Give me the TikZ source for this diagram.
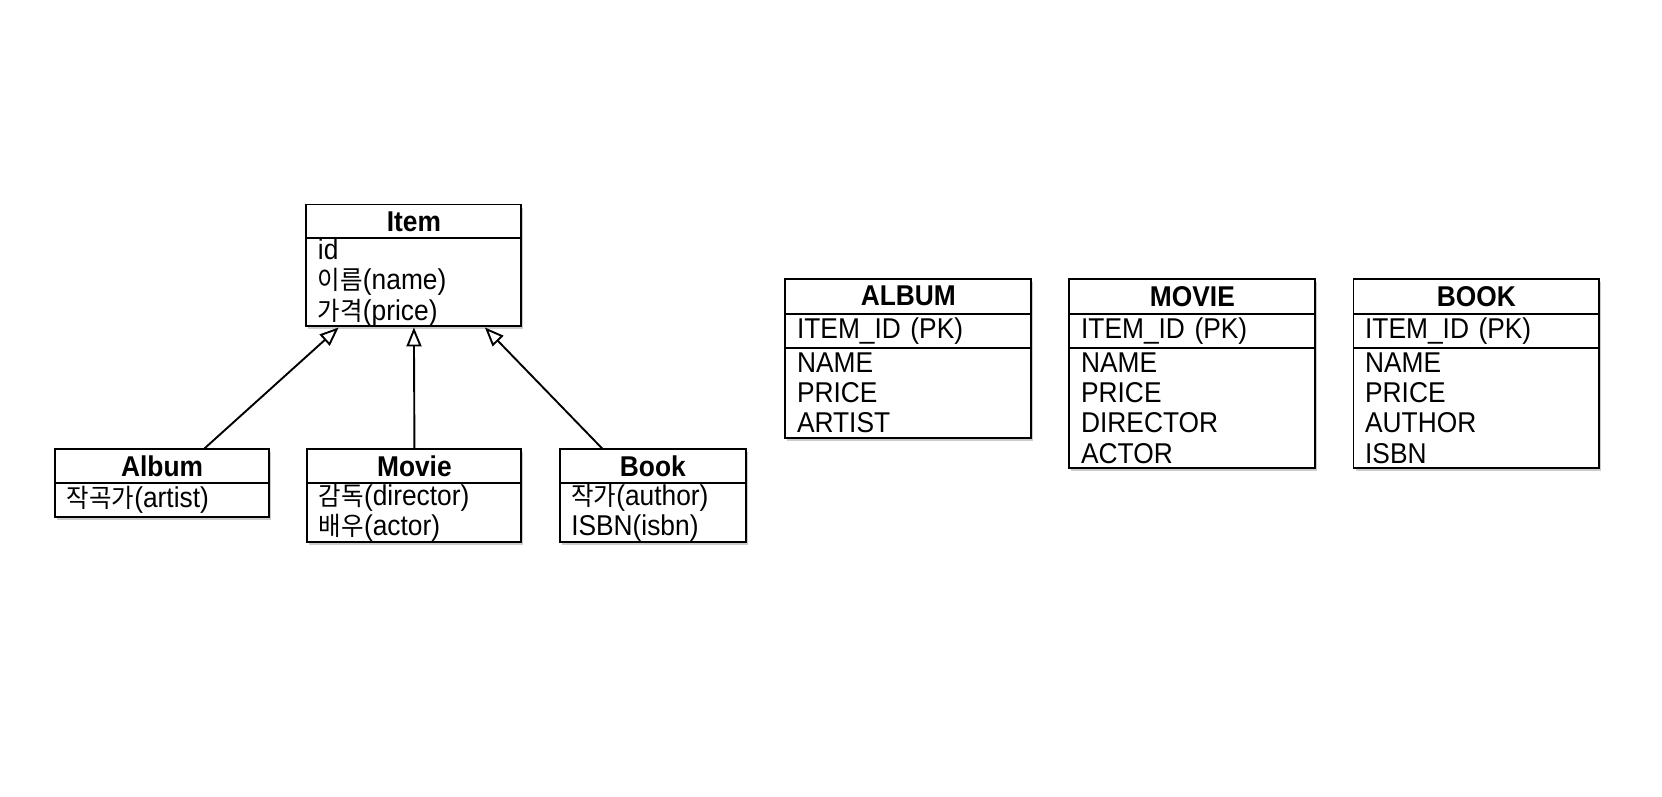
\documentclass[tikz,border=0pt]{standalone}
\usepackage{fontspec}
\setmainfont[FakeStretch=0.92]{Liberation Sans}
\newfontfamily\kr[Scale=0.9,FakeStretch=0.95]{Noto Sans CJK KR}
\usetikzlibrary{arrows.meta,shadows}
\begin{document}
\begin{tikzpicture}[x=1pt,y=-1pt,scale=1.06,every node/.style={transform shape},
  box/.style={draw, line width=1.9pt, fill=white, anchor=north west,
    drop shadow={shadow xshift=2pt, shadow yshift=-3pt, opacity=0.4}},
  head/.style={box, inner sep=0pt, font=\fontsize{27}{28.5}\selectfont\bfseries},
  body/.style={box, inner xsep=11pt, inner ysep=0pt, align=left,
    font=\fontsize{27}{28.5}\selectfont},
  inh/.style={line width=1.9pt, -{Triangle[open, length=19pt, width=15pt, line width=1.9pt]}}
]
\useasboundingbox (0,0) rectangle (1568,751);
% UML classes
\node[head, minimum width=203, minimum height=32] (itemh) at (288,192) {Item};
\node[body, minimum width=203, minimum height=83, text width=181] (itemb) at (288,224)
  {id\\{\kr 이름}(name)\\{\kr 가격}(price)};
\node[head, minimum width=202, minimum height=32] (albumh) at (51,423) {Album};
\node[body, minimum width=202, minimum height=32, text width=180] (albumb) at (51,455)
  {{\kr 작곡가}(artist)};
\node[head, minimum width=202, minimum height=32] (movieh) at (289,423) {Movie};
\node[body, minimum width=202, minimum height=55, text width=180] (movieb) at (289,455)
  {{\kr 감독}(director)\\{\kr 배우}(actor)};
\node[head, minimum width=176, minimum height=32] (bookh) at (527,423) {Book};
\node[body, minimum width=176, minimum height=55, text width=154] (bookb) at (527,455)
  {{\kr 작가}(author)\\ISBN(isbn)};
% inheritance
\draw[inh] ([xshift=40pt]albumh.north) -- ([xshift=-71pt]itemb.south);
\draw[inh] (movieh.north) -- (itemb.south);
\draw[inh] ([xshift=-48pt]bookh.north) -- ([xshift=67pt]itemb.south);
% tables
\node[head, minimum width=232, minimum height=33] (albumt) at (740,262) {ALBUM};
\node[body, minimum width=232, minimum height=32, text width=210] (albumpk) at (740,295) {ITEM\_ID (PK)};
\node[body, minimum width=232, minimum height=85, text width=210] (albumc) at (740,327) {NAME\\PRICE\\ARTIST};
\node[head, minimum width=232, minimum height=33] (moviet) at (1008,262) {MOVIE};
\node[body, minimum width=232, minimum height=32, text width=210] (moviepk) at (1008,295) {ITEM\_ID (PK)};
\node[body, minimum width=232, minimum height=114, text width=210] (moviec) at (1008,327) {NAME\\PRICE\\DIRECTOR\\ACTOR};
\node[head, minimum width=232, minimum height=33] (bookt) at (1276,262) {BOOK};
\node[body, minimum width=232, minimum height=32, text width=210] (bookpk) at (1276,295) {ITEM\_ID (PK)};
\node[body, minimum width=232, minimum height=114, text width=210] (bookc) at (1276,327) {NAME\\PRICE\\AUTHOR\\ISBN};
\end{tikzpicture}
\end{document}
